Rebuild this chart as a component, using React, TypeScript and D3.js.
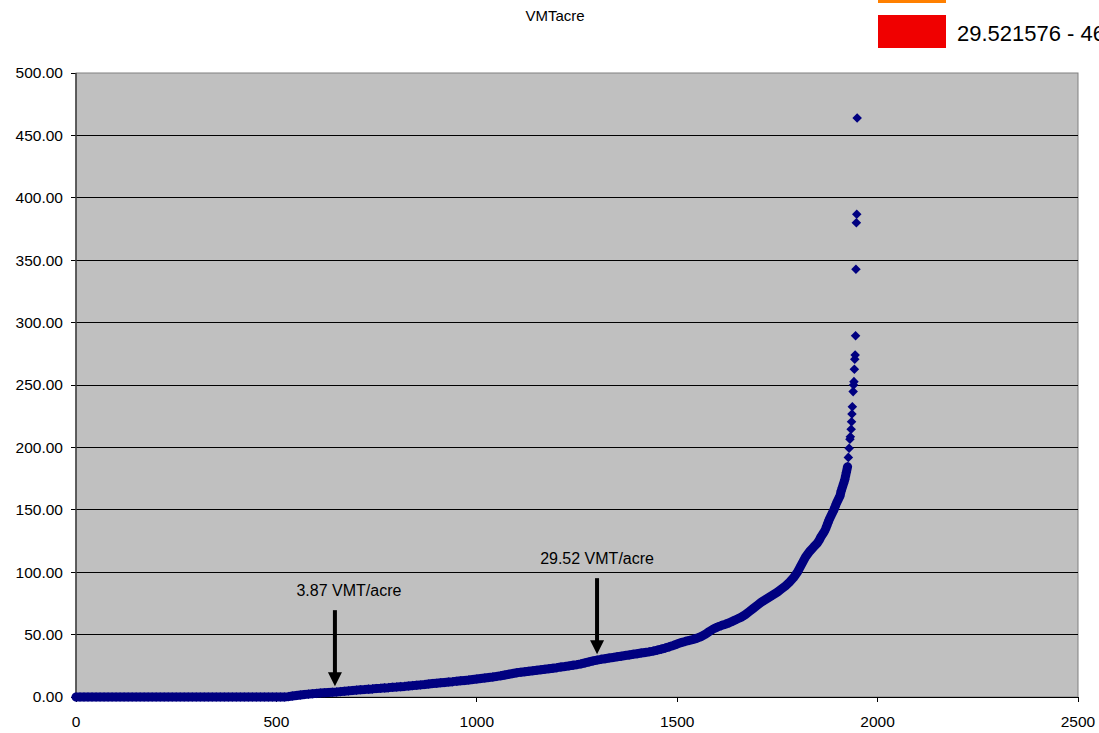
import React from "react";
import * as d3 from "d3";

// sorted VMT per acre, one value every 10 ranks from rank 0 to 1840
const bodyStep = 10;
const bodyValues = [
  0, 0, 0, 0, 0, 0, 0, 0, 0, 0,
  0, 0, 0, 0, 0, 0, 0, 0, 0, 0,
  0, 0, 0, 0, 0, 0, 0, 0, 0, 0,
  0, 0, 0, 0, 0, 0, 0, 0, 0, 0,
  0, 0, 0, 0, 0, 0, 0, 0, 0, 0,
  0, 0, 0, 0.3, 0.8, 1.2, 1.6, 2.0, 2.3, 2.6,
  2.9, 3.2, 3.4, 3.6, 3.8, 4.0, 4.3, 4.6, 4.9, 5.2,
  5.5, 5.8, 6.0, 6.3, 6.5, 6.8, 7.0, 7.3, 7.5, 7.8,
  8.0, 8.3, 8.5, 8.8, 9.1, 9.4, 9.7, 10.0, 10.4, 10.8,
  11.1, 11.4, 11.7, 12.0, 12.3, 12.7, 13.0, 13.3, 13.6, 14.0,
  14.4, 14.8, 15.2, 15.6, 16.0, 16.5, 17.0, 17.6, 18.2, 18.8,
  19.4, 19.9, 20.3, 20.7, 21.1, 21.5, 21.9, 22.3, 22.7, 23.1,
  23.5, 24.0, 24.4, 24.9, 25.4, 25.9, 26.5, 27.3, 28.1, 28.9,
  29.6, 30.2, 30.7, 31.2, 31.7, 32.2, 32.7, 33.2, 33.7, 34.2,
  34.7, 35.2, 35.7, 36.2, 36.8, 37.5, 38.3, 39.2, 40.2, 41.3,
  42.5, 43.6, 44.5, 45.3, 46.2, 47.2, 48.5, 50.2, 52.5, 54.5,
  56.0, 57.2, 58.3, 59.5, 61.0, 62.5, 64.0, 66.0, 68.5, 71.0,
  73.5, 76.0, 78.0, 80.0, 82.0, 84.0, 86.5, 89.0, 92.0, 95.5,
  100.0, 106.0, 112.0, 116.5, 120.0,
];

// steep tail, read point by point
const tailRanks = [
  1843, 1846, 1849, 1852, 1855, 1858, 1861, 1864, 1867, 1870,
  1873, 1876, 1879, 1882, 1885, 1888, 1891, 1894, 1897, 1900,
  1903, 1906, 1909, 1912, 1915, 1918, 1920, 1922, 1925,
  1927, 1929, 1931, 1932, 1934, 1935, 1936, 1937, 1939, 1940,
  1941, 1942, 1943, 1944, 1945, 1946, 1947, 1948, 1949,
];
const tailValues = [
  121, 122, 123, 124.5, 126, 128, 129.5, 131, 132.5, 134.5,
  137, 139.5, 142, 144, 146, 148, 150, 152.5, 155, 157,
  159, 161, 165, 168, 171, 174, 177, 180, 184.5,
  192, 199.3, 206.5, 208.6, 214.5, 220.6, 226.7, 232.6, 244.7, 250,
  252.7, 262.6, 270.6, 274, 289.5, 342.7, 380, 386.8, 464,
];
// ranks up to here are packed so tightly the markers merge into one band
const denseUntil = 1925;

const xTicks = [0, 500, 1000, 1500, 2000, 2500];
const yTicks = [0, 50, 100, 150, 200, 250, 300, 350, 400, 450, 500];

const chartTitle = "VMTacre";
const noteRanks = [646, 1300];
const noteValues = [3.87, 29.52];
const noteLabels = ["3.87 VMT/acre", "29.52 VMT/acre"];
const legendLabel = "29.521576 - 464.75";

const font = "'Liberation Sans', Arial, sans-serif";
const labelShift = [14, 0];

export default function App() {
  const width = 1099;
  const height = 733;
  const left = 76, right = 1078, top = 73, bottom = 697;

  const x = d3.scaleLinear().domain([0, 2500]).range([left, right]);
  const y = d3.scaleLinear().domain([0, 500]).range([bottom, top]);

  const points = [
    ...bodyValues.map((v, i) => ({ rank: i * bodyStep, value: v })),
    ...tailRanks.map((r, i) => ({ rank: r, value: tailValues[i] })),
  ];
  const dense = points.filter((p) => p.rank <= denseUntil);

  const band = d3
    .line<{ rank: number; value: number }>()
    .x((d) => x(d.rank))
    .y((d) => y(d.value))(dense) as string;

  const diamond = d3.symbol().type(d3.symbolDiamond2).size(58)() as string;
  const fmt = d3.format(".2f");

  return (
    <svg
      width={width}
      height={height}
      style={{ position: "absolute", left: 0, top: 0, display: "block", background: "#fff" }}
      fontFamily={font}
    >
      <rect x={0} y={0} width={width} height={height} fill="#fff" />

      {/* legend fragment at top right */}
      <rect x={878} y={-10} width={68} height={13} fill="#ff8000" />
      <rect x={878} y={15} width={68} height={33} fill="#f00000" />
      <text x={957} y={41} fontSize={22} fill="#000">{legendLabel}</text>

      <text x={555} y={21} fontSize={15} textAnchor="middle" fill="#000">{chartTitle}</text>

      {/* plot area */}
      <rect x={left} y={top} width={right - left} height={bottom - top} fill="#c0c0c0" stroke="#808080" strokeWidth={1} />

      {yTicks.map((t) => (
        <g key={"y" + t}>
          {t > 0 && t < 500 && (
            <line x1={left} x2={right} y1={y(t)} y2={y(t)} stroke="#000" strokeWidth={1} shapeRendering="crispEdges" />
          )}
          <line x1={left - 5} x2={left} y1={y(t)} y2={y(t)} stroke="#000" strokeWidth={1} shapeRendering="crispEdges" />
          <text x={63} y={y(t)} dy="0.35em" textAnchor="end" fontSize={15.5} fill="#000">
            {fmt(t)}
          </text>
        </g>
      ))}

      <line x1={left} x2={left} y1={top} y2={bottom} stroke="#404040" strokeWidth={1.5} />
      <line x1={left} x2={right} y1={bottom} y2={bottom} stroke="#000" strokeWidth={1} shapeRendering="crispEdges" />

      {xTicks.map((t) => (
        <g key={"x" + t}>
          <line x1={x(t)} x2={x(t)} y1={bottom} y2={bottom + 5} stroke="#000" strokeWidth={1} shapeRendering="crispEdges" />
          <text x={x(t)} y={727} textAnchor="middle" fontSize={15.5} fill="#000">{t}</text>
        </g>
      ))}

      {/* sorted values */}
      <path d={band} fill="none" stroke="#000080" strokeWidth={9} strokeLinejoin="round" strokeLinecap="round" />
      <g fill="#000080">
        {points.map((p, i) => (
          <path key={i} d={diamond} transform={`translate(${x(p.rank)},${y(p.value)})`} />
        ))}
      </g>

      {/* annotations */}
      {noteRanks.map((r, i) => {
        const ax = x(r);
        const tip = y(noteValues[i]) - 6;
        const tail = tip - 76;
        return (
          <g key={noteLabels[i]}>
            <line x1={ax} x2={ax} y1={tail} y2={tip - 12} stroke="#000" strokeWidth={4} />
            <path d={`M${ax - 7},${tip - 14}L${ax + 7},${tip - 14}L${ax},${tip}Z`} fill="#000" />
            <text x={ax + labelShift[i]} y={tail - 14} textAnchor="middle" fontSize={16} fill="#000">
              {noteLabels[i]}
            </text>
          </g>
        );
      })}
    </svg>
  );
}
